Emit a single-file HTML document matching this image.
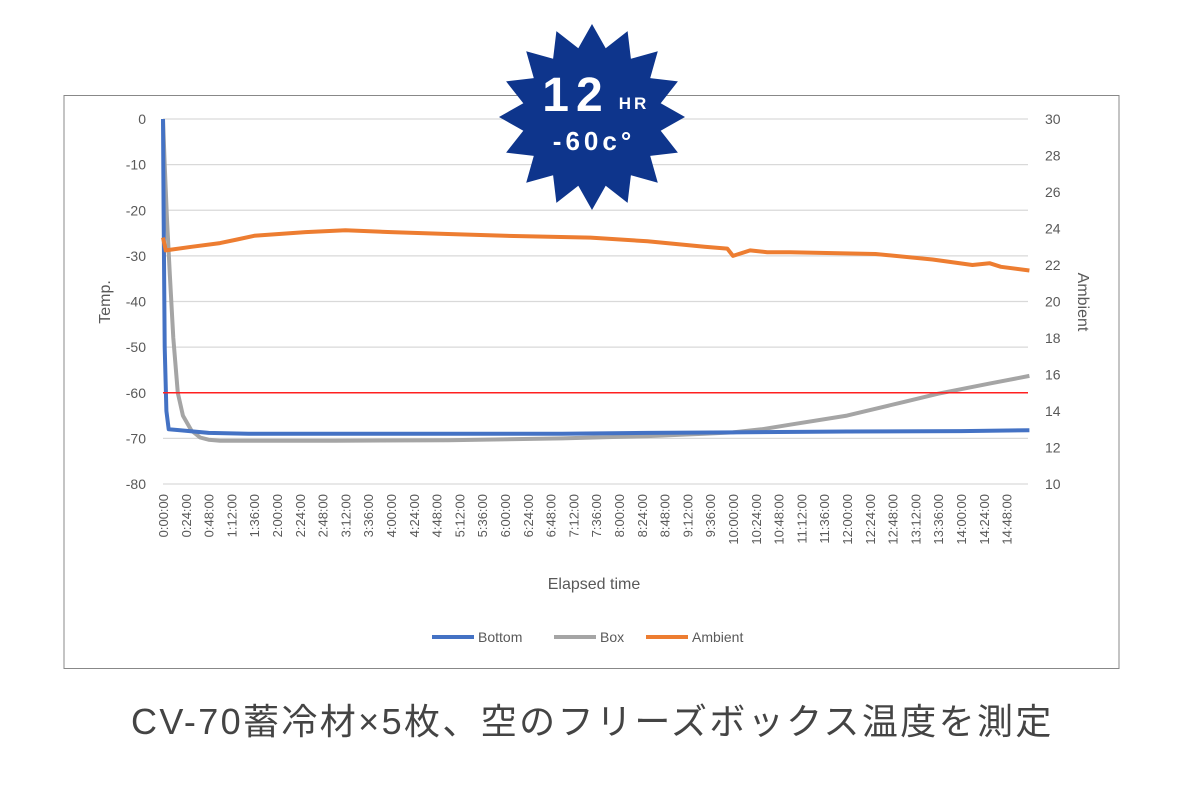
<!DOCTYPE html>
<html><head><meta charset="utf-8"><style>
body{margin:0;background:#fff;width:1200px;height:800px;overflow:hidden}
text{font-family:"Liberation Sans","Noto Sans CJK JP",sans-serif}
</style></head><body>
<svg id="c" width="1200" height="800">
<rect x="64" y="95.5" width="1055" height="573" fill="#fff" stroke="#888" stroke-width="1"/>
<g id="grid"></g><g id="series"></g><g id="axes"></g>
<g>
<polygon id="star" fill="#0e358c"/>
<text x="576" y="111" fill="#fff" font-size="48" font-weight="bold" text-anchor="middle" letter-spacing="7">12</text>
<text x="634" y="109" fill="#fff" font-size="17" font-weight="bold" text-anchor="middle" letter-spacing="3">HR</text>
<text x="594" y="150" fill="#fff" font-size="26" font-weight="bold" text-anchor="middle" letter-spacing="4">-60c°</text>
</g>
<g>
<line x1="432" y1="637" x2="474" y2="637" stroke="#4472c4" stroke-width="4"/><text x="478" y="642" font-size="14" fill="#595959">Bottom</text>
<line x1="554" y1="637" x2="596" y2="637" stroke="#a5a5a5" stroke-width="4"/><text x="600" y="642" font-size="14" fill="#595959">Box</text>
<line x1="646" y1="637" x2="688" y2="637" stroke="#ed7d31" stroke-width="4"/><text x="692" y="642" font-size="14" fill="#595959">Ambient</text>
</g>
<text x="594" y="589" font-size="16" fill="#595959" text-anchor="middle">Elapsed time</text>
<text transform="translate(110,302) rotate(-90)" font-size="16" fill="#595959" text-anchor="middle">Temp.</text>
<text transform="translate(1078,302) rotate(90)" font-size="16" fill="#595959" text-anchor="middle">Ambient</text>
<text x="592" y="734" font-size="36" fill="#444" text-anchor="middle" letter-spacing="1.6" textLength="922">CV-70蓄冷材×5枚、空のフリーズボックス温度を測定</text>
</svg>
<script>
const leftTicks=[0,-10,-20,-30,-40,-50,-60,-70,-80];
const rightTicks=[30,28,26,24,22,20,18,16,14,12,10];
const threshold=-60;
const bottomT=[0,0.01,0.03,0.06,0.1,0.3,0.8,1.5,3,5,7,8.5,10,12,14,15.2];
const bottomV=[0,-20,-50,-64,-68,-68.2,-68.8,-69,-69,-69,-69,-68.8,-68.7,-68.5,-68.4,-68.2];
const boxT=[0,0.03,0.07,0.12,0.18,0.26,0.35,0.5,0.65,0.8,1,3,5,7,8.5,9.5,10,10.5,11,12,13,13.6,14.5,15.2];
const boxV=[0,-10,-22,-34,-48,-60,-65,-68.3,-69.8,-70.3,-70.5,-70.5,-70.4,-70,-69.5,-69,-68.7,-68,-67,-65,-62,-60.2,-58,-56.3];
const ambT=[0,0.05,0.5,1,1.3,1.6,2.5,3.2,4,5,6,7.5,8.5,9.5,9.9,10,10.3,10.6,11,12.5,13.5,14.2,14.5,14.7,15.2];
const ambV=[23.5,22.8,23,23.2,23.4,23.6,23.8,23.9,23.8,23.7,23.6,23.5,23.3,23.0,22.9,22.5,22.8,22.7,22.7,22.6,22.3,22.0,22.1,21.9,21.7];
const ns="http://www.w3.org/2000/svg";
const X=t=>163+t*57.0, YL=v=>119+(-v)/80*365, YR=v=>484-(v-10)/20*365;
const g=document.getElementById('grid'),s=document.getElementById('series'),a=document.getElementById('axes');
function mk(tag,at,p){const e=document.createElementNS(ns,tag);for(const k in at)e.setAttribute(k,at[k]);p.appendChild(e);return e;}
leftTicks.forEach(v=>{const y=YL(v);
 const l=mk('line',{x1:163,x2:1028,y1:y,y2:y,stroke:'#d9d9d9','stroke-width':1.3},g);
 
 
 const t=mk('text',{x:146,y:y+5,'font-size':14,fill:'#595959','text-anchor':'end'},a);t.textContent=v;
 
 });
rightTicks.forEach(v=>{const t=mk('text',{x:1045,y:YR(v)+5,'font-size':14,fill:'#595959'},a);t.textContent=v;
 
 });
for(let i=0;i<=37;i++){const m=i*24,h=Math.floor(m/60),mm=m%60;const lbl=h+':'+(mm<10?'0':'')+mm+':00';
 const x=X(m/60)+5;
 const t=mk('text',{transform:`translate(${x},494) rotate(-90)`,'font-size':13,fill:'#595959','text-anchor':'end'},a);t.textContent=lbl;
 
 }
function path(T,V,Y,col,name){let d='';T.forEach((t,i)=>d+=(i?'L':'M')+X(t).toFixed(1)+' '+Y(V[i]).toFixed(1));
 const p=mk('path',{d:d,fill:'none',stroke:col,'stroke-width':4,'stroke-linejoin':'round'},s);
 
 }
path(boxT,boxV,YL,'#a5a5a5','box-line');
path(bottomT,bottomV,YL,'#4472c4','bottom-line');
path(ambT,ambV,YR,'#ed7d31','ambient-line');
const th=mk('line',{x1:163,x2:1028,y1:YL(threshold),y2:YL(threshold),stroke:'#ff2020','stroke-width':1.5},s);


let pts=[];const N=16,cx=592,cy=117,R=93,r=70;
for(let i=0;i<2*N;i++){const ang=-Math.PI/2+i*Math.PI/N,rr=i%2?r:R;pts.push((cx+rr*Math.cos(ang)).toFixed(1)+','+(cy+rr*Math.sin(ang)).toFixed(1));}
document.getElementById('star').setAttribute('points',pts.join(' '));
</script>
</body></html>
